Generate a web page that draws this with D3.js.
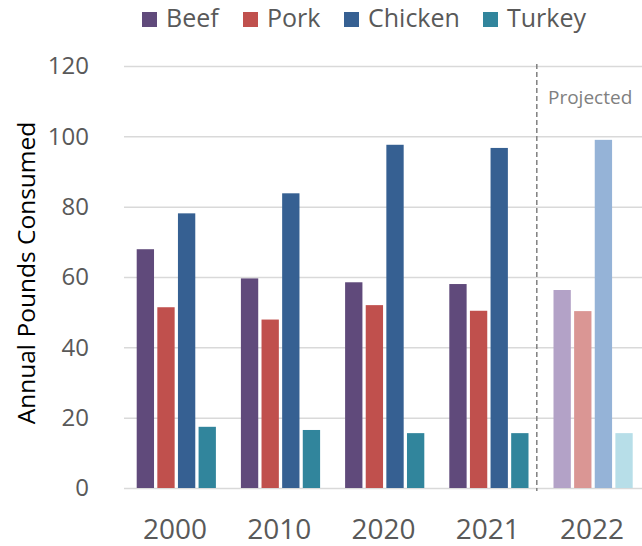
<!DOCTYPE html>
<html>
<head>
<meta charset="utf-8">
<script src="https://cdn.jsdelivr.net/npm/d3@7"></script>
<style>
    body { margin: 0; background: white; }
    svg { display: block; font-family: "Open Sans", sans-serif; }
</style>
</head>
<body>
<svg></svg>
<script>
const years = ["2000", "2010", "2020", "2021", "2022"];
const meats = ["Beef", "Pork", "Chicken", "Turkey"];
const beef = [67.9, 59.6, 58.5, 58.0, 56.3];
const pork = [51.4, 47.9, 52.0, 50.4, 50.3];
const chicken = [78.1, 83.8, 97.6, 96.7, 99.0];
const turkey = [17.4, 16.5, 15.6, 15.6, 15.6];
const yTicks = [0, 20, 40, 60, 80, 100, 120];
const projectedYear = "2022";

const colors = ["#604a7b", "#c0504d", "#366092", "#31859c"];
const lightColors = ["#b3a2c7", "#da9694", "#95b3d7", "#b7dee8"];

const width = 642;
const height = 546;
const plotLeft = 124;
const plotTop = 66;
const plotBottom = 488;

const series = [beef, pork, chicken, turkey];

const svg = d3.select("svg")
    .attr("width", width)
    .attr("height", height);

const x0 = d3.scaleBand()
    .domain(years)
    .range([plotLeft, 645]);

const x1 = d3.scaleBand()
    .domain(meats)
    .range([12.7, x0.bandwidth() - 12.3])
    .paddingInner(0.16);

const y = d3.scaleLinear()
    .domain([0, 120])
    .range([plotBottom, plotTop]);

// gridlines + y labels
const yAxis = svg.append("g")
    .attr("transform", `translate(${plotLeft},0)`)
    .call(d3.axisLeft(y).tickValues(yTicks).tickSize(-(width - plotLeft)).tickPadding(35));
yAxis.select(".domain").remove();
yAxis.selectAll(".tick line")
    .attr("stroke", "#d9d9d9")
    .attr("stroke-width", 1.5);
yAxis.selectAll(".tick text")
    .attr("fill", "#595959")
    .attr("font-size", 24)
    .attr("font-family", "Open Sans");

// bars
const groups = svg.selectAll("g.year")
    .data(years)
    .enter()
    .append("g")
    .attr("class", "year")
    .attr("transform", d => `translate(${x0(d)},0)`);

groups.selectAll("rect")
    .data((d, i) => meats.map((m, j) => ({ meat: m, value: series[j][i], year: d, idx: j })))
    .enter()
    .append("rect")
    .attr("x", d => x1(d.meat))
    .attr("width", x1.bandwidth())
    .attr("y", d => y(d.value))
    .attr("height", d => y(0) - y(d.value))
    .attr("fill", d => d.year === projectedYear ? lightColors[d.idx] : colors[d.idx]);

// x labels
svg.append("g")
    .selectAll("text")
    .data(years)
    .enter()
    .append("text")
    .attr("x", d => x0(d) + x0.bandwidth() / 2 - 1)
    .attr("y", 539)
    .attr("text-anchor", "middle")
    .attr("font-size", 28)
    .attr("fill", "#595959")
    .text(d => d);

// projected divider
const divX = x0(projectedYear) - 4;
svg.append("line")
    .attr("x1", divX)
    .attr("x2", divX)
    .attr("y1", 64)
    .attr("y2", 491)
    .attr("stroke", "#808080")
    .attr("stroke-width", 1.5)
    .attr("stroke-dasharray", "5,3");

svg.append("text")
    .attr("x", 548)
    .attr("y", 104)
    .attr("font-size", 19)
    .attr("fill", "#808080")
    .text("Projected");

// y title
svg.append("text")
    .attr("transform", `translate(35,273) rotate(-90)`)
    .attr("text-anchor", "middle")
    .attr("font-size", 24.5)
    .attr("fill", "#000")
    .text("Annual Pounds Consumed");

// legend
const legendX = [142, 243, 344, 483];
const legend = svg.selectAll("g.legend")
    .data(meats)
    .enter()
    .append("g")
    .attr("class", "legend")
    .attr("transform", (d, i) => `translate(${legendX[i]},12)`);

legend.append("rect")
    .attr("width", 15)
    .attr("height", 15)
    .attr("fill", (d, i) => colors[i]);

legend.append("text")
    .attr("x", 24)
    .attr("y", 15)
    .attr("font-size", 25)
    .attr("fill", "#595959")
    .text(d => d);
</script>
</body>
</html>
